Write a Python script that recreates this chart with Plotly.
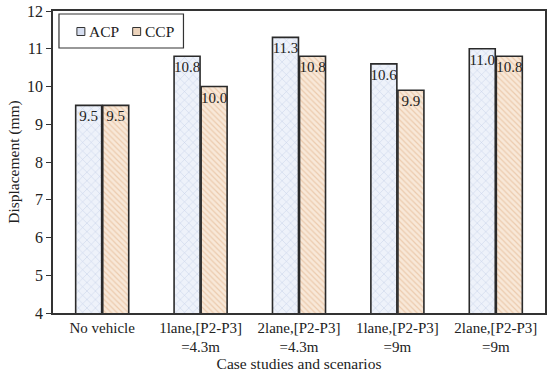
import plotly.graph_objects as go

categories = ["No vehicle", "1lane,[P2-P3]<br>=4.3m", "2lane,[P2-P3]<br>=4.3m",
              "1lane,[P2-P3]<br>=9m", "2lane,[P2-P3]<br>=9m"]
acp = [9.5, 10.8, 11.3, 10.6, 11.0]
ccp = [9.5, 10.0, 10.8, 9.9, 10.8]
acp_labels = ["9.5", "10.8", "11.3", "10.6", "11.0"]
ccp_labels = ["9.5", "10.0", "10.8", "9.9", "10.8"]
series_names = ["ACP", "CCP"]

font_family = "Liberation Serif, Times New Roman, serif"
acp_bg, acp_fg = "#eef2fa", "#a3b4da"
ccp_bg, ccp_fg = "#f8e8d8", "#dfae84"

fig = go.Figure()
fig.add_trace(go.Bar(
    x=categories, y=acp, name=series_names[0], text=acp_labels,
    textposition="inside", insidetextanchor="end", constraintext="none",
    textangle=0, showlegend=False,
    textfont=dict(color="#222", size=15, family=font_family),
    marker=dict(color=acp_bg, line=dict(color="#2a2a2a", width=1.6),
                pattern=dict(shape="x", fgcolor=acp_fg, size=6, solidity=0.18)),
))
fig.add_trace(go.Bar(
    x=categories, y=ccp, name=series_names[1], text=ccp_labels,
    textposition="inside", insidetextanchor="end", constraintext="none",
    textangle=0, showlegend=False,
    textfont=dict(color="#222", size=15, family=font_family),
    marker=dict(color=ccp_bg, line=dict(color="#2a2a2a", width=1.6),
                pattern=dict(shape="\\", fgcolor=ccp_fg, size=4, solidity=0.3)),
))

# plot area in pixels: x 53..547, y 11..313
L, R, T, B = 53, 547, 11, 313
def px(x):
    return (x - L) / (R - L)
def py(y):
    return (B - y) / (B - T)

shapes = [
    dict(type="rect", xref="paper", yref="paper", x0=px(59), x1=px(184),
         y0=py(48), y1=py(14), line=dict(color="#333", width=1.2),
         fillcolor="white", layer="above"),
    dict(type="rect", xref="paper", yref="paper", x0=px(77), x1=px(85),
         y0=py(35.5), y1=py(27.5), line=dict(color="#333", width=1),
         fillcolor="#d6def0", layer="above"),
    dict(type="rect", xref="paper", yref="paper", x0=px(133), x1=px(141),
         y0=py(35.5), y1=py(27.5), line=dict(color="#333", width=1),
         fillcolor="#ecd3bb", layer="above"),
]
annotations = [
    dict(xref="paper", yref="paper", x=px(87), y=py(31.5), text=series_names[0],
         showarrow=False, xanchor="left", yanchor="middle",
         font=dict(size=15.5, family=font_family, color="#222")),
    dict(xref="paper", yref="paper", x=px(143), y=py(31.5), text=series_names[1],
         showarrow=False, xanchor="left", yanchor="middle",
         font=dict(size=15.5, family=font_family, color="#222")),
]

fig.update_layout(
    width=550, height=375,
    margin=dict(l=53, r=3, t=11, b=62),
    paper_bgcolor="white", plot_bgcolor="white",
    font=dict(family=font_family, size=15, color="#222"),
    barmode="group", bargap=0.45, bargroupgap=0.04,
    showlegend=False,
    shapes=shapes, annotations=annotations,
    xaxis=dict(title=dict(text="Case studies and scenarios", standoff=2,
                          font=dict(size=15.5)),
               showline=True, linecolor="#333", linewidth=1.5, mirror=True,
               ticks="", tickfont=dict(size=15)),
    yaxis=dict(title=dict(text="Displacement (mm)", font=dict(size=15.5), standoff=4),
               range=[4, 12], dtick=1, showline=True, linecolor="#333",
               linewidth=1.5, mirror=True, ticks="outside", ticklen=5,
               tickcolor="#333", showgrid=False, tickfont=dict(size=16)),
)

fig.write_html("out.html", config={"displayModeBar": False},
               post_script="document.body.style.margin='0px';")
